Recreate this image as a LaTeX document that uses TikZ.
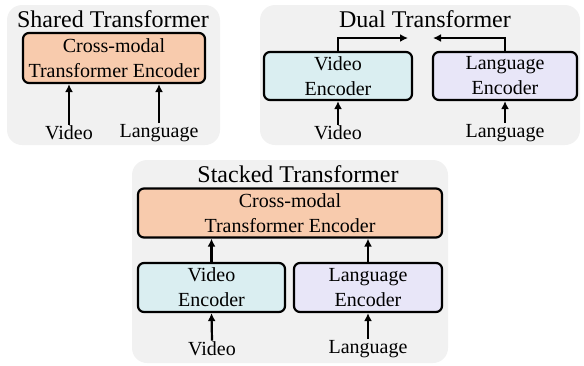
\documentclass[tikz,border=0pt]{standalone}
\usepackage{fontspec}
\setmainfont{Liberation Serif}
\definecolor{panelgray}{RGB}{241,241,241}
\definecolor{crossorange}{RGB}{248,203,173}
\definecolor{videocyan}{RGB}{218,238,241}
\definecolor{langlilac}{RGB}{232,230,248}
\usetikzlibrary{arrows.meta,calc}

\begin{document}
\begin{tikzpicture}[x=1pt,y=-1pt,
    panel/.style={fill=panelgray, rounded corners=15pt},
    title/.style={font=\fontsize{24}{26}\selectfont, inner sep=0pt},
    enc/.style={draw, line width=2.2pt, rounded corners=6pt, align=center, inner sep=0pt,
      font=\fontsize{20}{25}\selectfont},
    inp/.style={font=\fontsize{20}{22}\selectfont, inner sep=1pt},
    arr/.style={line width=2.2pt, -{Latex[length=8pt,width=8pt]}}
    ]
      \useasboundingbox (0,0) rectangle (584,365);
      % panels
      \fill[panel] (7,5) rectangle (220,145);
      \fill[panel] (260,5) rectangle (580,145);
      \fill[panel] (132,160) rectangle (448,363);

      % shared transformer
      \node[title] (shtitle) at (113,19) {Shared Transformer};
      \node[enc, fill=crossorange, minimum width=182pt, minimum height=50pt] (shcross) at (114,58)
        {Cross-modal\\Transformer Encoder};
      \node[inp] (shvid) at (69,133) {Video};
      \node[inp] (shlang) at (159,133) {Language};
      \draw[arr] (shvid.north) -- (shvid.north |- shcross.south);
      \draw[arr] (shlang.north) -- (shlang.north |- shcross.south);

      % dual transformer
      \node[title] (dutitle) at (425,19) {Dual Transformer};
      \node[enc, fill=videocyan, minimum width=148pt, minimum height=48pt] (duvenc) at (338,76)
        {Video\\Encoder};
      \node[enc, fill=langlilac, minimum width=144pt, minimum height=48pt] (dulenc) at (505,76)
        {Language\\Encoder};
      \node[inp] (duvid) at (338,133) {Video};
      \node[inp] (dulang) at (505,133) {Language};
      \coordinate (duvend) at (408,38);
      \coordinate (dulend) at (433,38);
      \draw[arr] (duvid.north) -- (duvenc.south);
      \draw[arr] (dulang.north) -- (dulenc.south);
      \draw[arr] (duvenc.north) |- (duvend);
      \draw[arr] (dulenc.north) |- (dulend);

      % stacked transformer
      \node[title] (sttitle) at (298,174) {Stacked Transformer};
      \node[enc, fill=crossorange, minimum width=304pt, minimum height=49pt] (stcross) at (290,213)
        {Cross-modal\\Transformer Encoder};
      \node[enc, fill=videocyan, minimum width=147pt, minimum height=49pt] (stvenc) at (211.5,287.5)
        {Video\\Encoder};
      \node[enc, fill=langlilac, minimum width=148pt, minimum height=49pt] (stlenc) at (368,287.5)
        {Language\\Encoder};
      \node[inp] (stvid) at (212,349) {Video};
      \node[inp] (stlang) at (368,349) {Language};
      \draw[arr] (stvid.north) -- (stvenc.south);
      \draw[arr] (stlang.north) -- (stlenc.south);
      \draw[arr] (stvenc.north) -- (stvenc.north |- stcross.south);
      \draw[arr] (stlenc.north) -- (stlenc.north |- stcross.south);
    \end{tikzpicture}
\end{document}
